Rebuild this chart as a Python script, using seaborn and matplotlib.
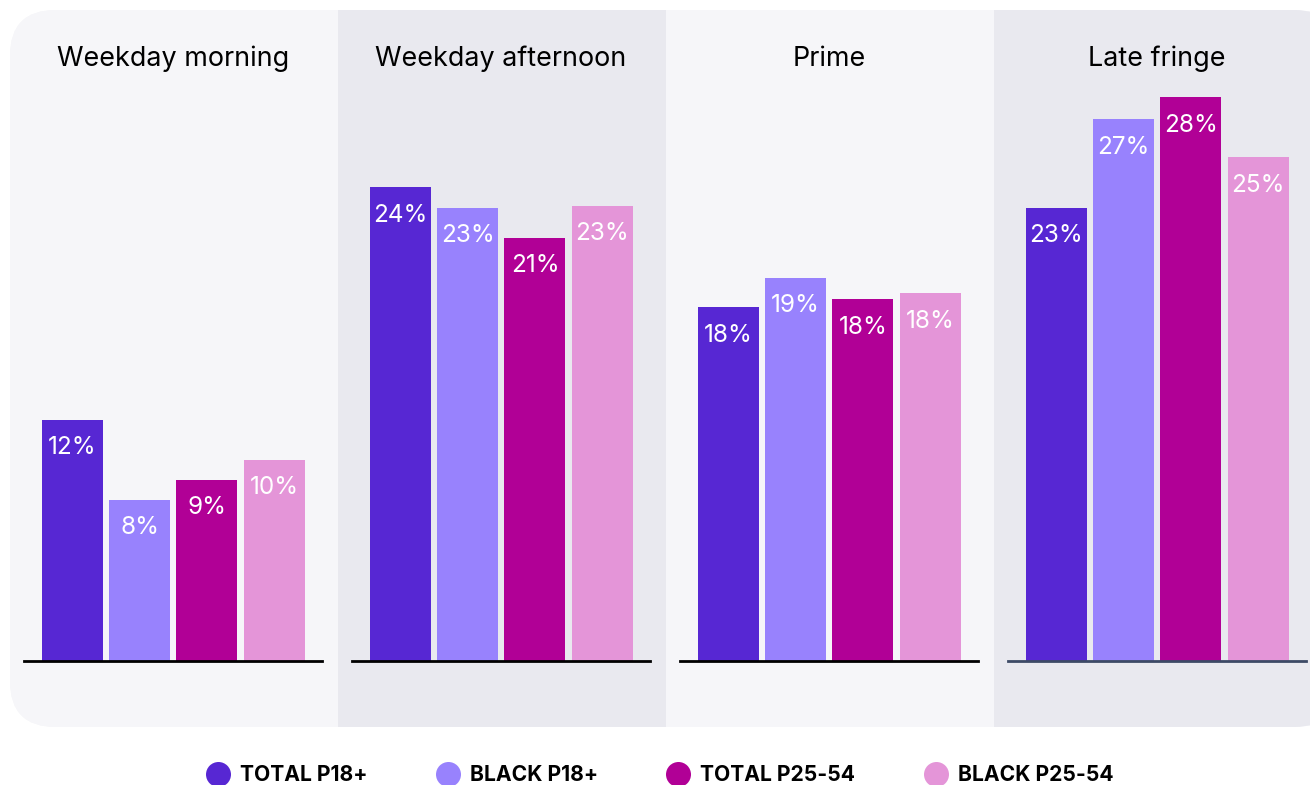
import matplotlib
matplotlib.use("Agg")
import matplotlib.pyplot as plt
from matplotlib.patches import FancyBboxPatch, Rectangle
from matplotlib.lines import Line2D
import seaborn as sns
import pandas as pd

sns.set_theme(style="white")
plt.rcParams['font.family'] = ['Inter', 'DejaVu Sans']
plt.rcParams['text.color'] = 'black'

dayparts = ["Weekday morning", "Weekday afternoon", "Prime", "Late fringe"]
series = ["TOTAL P18+", "BLACK P18+", "TOTAL P25-54", "BLACK P25-54"]
colors = ["#5727d3", "#9882fd", "#b10096", "#e495d8"]
morning = [12.05, 8.05, 9.05, 10.05]
afternoon = [23.7, 22.65, 21.15, 22.75]
prime = [17.7, 19.15, 18.1, 18.4]
late = [22.65, 27.1, 28.2, 25.2]
labels = [["12%", "8%", "9%", "10%"],
          ["24%", "23%", "21%", "23%"],
          ["18%", "19%", "18%", "18%"],
          ["23%", "27%", "28%", "25%"]]
values = [morning, afternoon, prime, late]

W, H = 1310, 785
fig = plt.figure(figsize=(W / 100, H / 100), dpi=100)
fig.patch.set_facecolor("white")

light_bg = "#f6f6f9"
dark_bg = "#e9e9ef"
cont = FancyBboxPatch((10 / W, (H - 727) / H), 1330 / W, 717 / H,
                      boxstyle="round,pad=0,rounding_size=0.035",
                      transform=fig.transFigure, facecolor=light_bg,
                      edgecolor="none", zorder=-3, mutation_aspect=W / H)
fig.add_artist(cont)
for i, (x0, x1) in enumerate([(10, 338), (338, 666), (666, 994), (994, 1340)]):
    r = Rectangle((x0 / W, (H - 727) / H), (x1 - x0) / W, 717 / H,
                  transform=fig.transFigure,
                  facecolor=light_bg if i % 2 == 0 else dark_bg,
                  edgecolor="none", zorder=-2)
    fig.add_artist(r)
    r.set_clip_path(cont)

axes_left = [24, 352, 680, 1008]
base_y = 661
px_per_unit = 20
ymax = 30
for i, name in enumerate(dayparts):
    ax = fig.add_axes([axes_left[i] / W, (H - base_y) / H, 298 / W,
                       ymax * px_per_unit / H])
    ax.set_zorder(1)
    ax.set_facecolor("none")
    df = pd.DataFrame({"series": series, "value": values[i]})
    sns.barplot(data=df, x="series", y="value", hue="series",
                palette=colors, ax=ax, width=0.906, legend=False,
                saturation=1, edgecolor="none", linewidth=0)
    ax.set_xlim(-0.72, 3.71)
    ax.set_ylim(0, ymax)
    ax.set_xticks([])
    ax.set_yticks([])
    ax.set_xlabel("")
    ax.set_ylabel("")
    for s in ["top", "left", "right"]:
        ax.spines[s].set_visible(False)
    ax.spines["bottom"].set_linewidth(2)
    ax.spines["bottom"].set_color("#3d4a66" if i == 3 else "black")
    for j, v in enumerate(values[i]):
        ax.annotate(labels[i][j], (j, v), xytext=(0, -28),
                    textcoords="offset pixels", ha="center", va="center",
                    color="white", fontsize=17.5, fontweight="normal")
    cx = (axes_left[i] + 149) / W
    fig.text(cx, (H - 59) / H, name, ha="center", va="center",
             fontsize=19.4, color="black")

handles = [Line2D([0], [0], marker="o", linestyle="none", markersize=18,
                  markerfacecolor=c, markeredgecolor="none") for c in colors]
leg = fig.legend(handles, series, loc="center", bbox_to_anchor=(0.504, (H - 775) / H),
                 ncol=4, frameon=False, handletextpad=0.55, columnspacing=3.3,
                 handlelength=1.0, prop={"weight": "bold", "size": 15.2})
for t in leg.get_texts():
    t.set_color("black")

fig.savefig("out.png", dpi=100)
